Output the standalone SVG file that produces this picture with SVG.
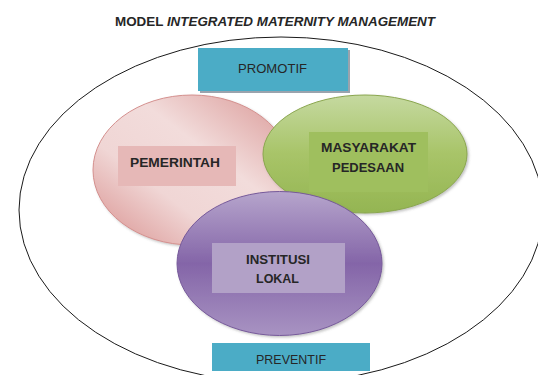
<svg xmlns="http://www.w3.org/2000/svg" width="538" height="375" viewBox="0 0 538 375">
<defs>
<linearGradient id="gPink" x1="0" y1="1" x2="1" y2="0">
<stop offset="0" stop-color="#d88e8c"/>
<stop offset="0.35" stop-color="#f0d6d5"/>
<stop offset="0.6" stop-color="#f2dcdb"/>
<stop offset="1" stop-color="#d99694"/>
</linearGradient>
<linearGradient id="gGreen" x1="0" y1="0" x2="0" y2="1">
<stop offset="0" stop-color="#c5d9a0"/>
<stop offset="0.5" stop-color="#a8c468"/>
<stop offset="1" stop-color="#94b552"/>
</linearGradient>
<linearGradient id="gPurple" x1="0" y1="0" x2="0" y2="1">
<stop offset="0" stop-color="#b6a5cc"/>
<stop offset="0.5" stop-color="#8465a8"/>
<stop offset="1" stop-color="#a893c2"/>
</linearGradient>
<filter id="sh" x="-10%" y="-10%" width="130%" height="130%">
<feDropShadow dx="1.5" dy="1.5" stdDeviation="1.2" flood-color="#555" flood-opacity="0.35"/>
</filter>
</defs>
<style>
.lbl{font-family:"Liberation Sans",Arial,sans-serif;font-weight:bold;font-size:13.5px;fill:#262626;text-anchor:middle}
.box{fill:#4bacc6}
.boxt{font-family:"Liberation Sans",Arial,sans-serif;font-size:13.5px;fill:#262626;text-anchor:middle}
</style>
<rect width="538" height="375" fill="#ffffff"/>
<text x="275" y="26" font-family="'Liberation Sans',Arial,sans-serif" font-weight="bold" font-size="13.5" fill="#262626" text-anchor="middle" textLength="320" lengthAdjust="spacingAndGlyphs">MODEL <tspan font-style="italic">INTEGRATED MATERNITY MANAGEMENT</tspan></text>
<g id="outer">
<ellipse cx="281" cy="210" rx="262" ry="173" fill="none" stroke="#1a1a1a" stroke-width="1"/>
</g>
<g id="promotif">
<rect x="200" y="50" width="150" height="43" fill="#9aa3ad"/>
<rect class="box" x="198" y="48" width="150" height="43"/>
<text class="boxt" x="272.5" y="73" textLength="69" lengthAdjust="spacingAndGlyphs">PROMOTIF</text>
</g>
<g id="pemerintah">
<ellipse cx="192" cy="170" rx="99" ry="75" fill="url(#gPink)" stroke="#d4908e" stroke-width="1" filter="url(#sh)"/>
<rect x="118" y="146" width="118" height="40" fill="#e6b8b7"/>
<text class="lbl" x="175" y="167" textLength="90" lengthAdjust="spacingAndGlyphs">PEMERINTAH</text>
</g>
<g id="masyarakat">
<ellipse cx="365" cy="154" rx="102" ry="59" fill="url(#gGreen)" stroke="#8aa64e" stroke-width="1" filter="url(#sh)"/>
<rect x="309" y="132" width="119" height="60" fill="#9fbf5e"/>
<text class="lbl" x="368.5" y="152" textLength="95" lengthAdjust="spacingAndGlyphs">MASYARAKAT</text>
<text class="lbl" x="368" y="172" textLength="72" lengthAdjust="spacingAndGlyphs">PEDESAAN</text>
</g>
<g id="institusi">
<ellipse cx="279.5" cy="263.5" rx="102.5" ry="72" fill="url(#gPurple)" stroke="#76599a" stroke-width="1" filter="url(#sh)"/>
<rect x="212" y="243" width="133" height="50" fill="#b2a1c7"/>
<text class="lbl" x="278" y="264" textLength="64" lengthAdjust="spacingAndGlyphs">INSTITUSI</text>
<text class="lbl" x="277.5" y="283" textLength="43" lengthAdjust="spacingAndGlyphs">LOKAL</text>
</g>
<g id="preventif">
<rect class="box" x="212" y="343" width="158" height="28"/>
<text class="boxt" x="291" y="364" textLength="70" lengthAdjust="spacingAndGlyphs">PREVENTIF</text>
</g>
<g id="connectors"/>
</svg>
